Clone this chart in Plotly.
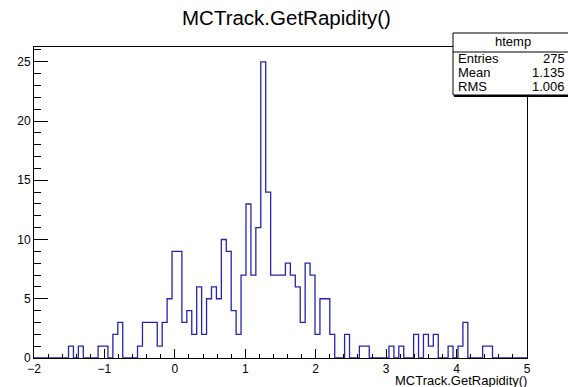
import plotly.graph_objects as go

# ---- data ----
x_min = -2.0
x_max = 5.0
n_bins = 100
counts = [0, 0, 0, 0, 0, 0, 0, 1, 0, 1,
          0, 0, 0, 1, 1, 0, 2, 3, 0, 0,
          0, 1, 3, 3, 3, 1, 3, 5, 9, 9,
          3, 4, 2, 6, 2, 5, 6, 5, 10, 9,
          4, 2, 7, 13, 7, 11, 25, 14, 7, 7,
          7, 8, 7, 6, 3, 8, 7, 2, 5, 5,
          2, 0, 0, 2, 0, 0, 1, 1, 0, 0,
          0, 0, 1, 0, 1, 0, 0, 2, 0, 2,
          1, 2, 0, 0, 1, 0, 1, 3, 0, 0,
          0, 1, 1, 0, 0, 0, 0, 0, 0, 0]
stat_names = ["Entries", "Mean", "RMS"]
stat_values = ["275", "1.135", "1.006"]
hist_name = "htemp"
title_text = "MCTrack.GetRapidity()"
x_title = "MCTrack.GetRapidity()"

# ---- geometry (page pixels) ----
W, H = 568, 387
PL, PR, PT, PB = 34, 527, 47, 358          # plot frame in page pixels
ML, MT = PL, PT
MR, MB = W - PR, H - PB
PW, PH = PR - PL, PB - PT


def px(x):
    return (x - PL) / PW


def py(y):
    return (PB - y) / PH


bw = (x_max - x_min) / n_bins
edges = [x_min + i * bw for i in range(n_bins + 1)]
ys = list(counts) + [counts[-1]]

FONT = "Liberation Sans, Arial, Helvetica, sans-serif"
LINE = "#2424b0"

fig = go.Figure()
fig.add_trace(go.Scatter(
    x=[edges[0]] + edges + [edges[-1]],
    y=[0] + ys + [0],
    mode="lines",
    line=dict(shape="hv", color=LINE, width=1.3),
    hoverinfo="skip",
    showlegend=False,
))

axis_common = dict(
    ticks="inside", tickcolor="black", showline=True, linecolor="black",
    linewidth=1, mirror=True, showgrid=False, zeroline=False,
    tickfont=dict(family=FONT, size=12, color="black"),
)

fig.update_layout(
    width=W, height=H,
    margin=dict(l=ML, r=MR, t=MT, b=MB, pad=0),
    paper_bgcolor="white", plot_bgcolor="white",
    showlegend=False,
    xaxis=dict(range=[x_min, x_max], tick0=-2, dtick=1, ticklen=9,
               minor=dict(dtick=0.2, tick0=-2, ticklen=4, ticks="inside",
                          tickcolor="black", showgrid=False),
               **axis_common),
    yaxis=dict(range=[0, max(counts) * 1.05], tick0=0, dtick=5, ticklen=14,
               minor=dict(dtick=1, ticklen=7, ticks="inside",
                          tickcolor="black", showgrid=False),
               **axis_common),
)

# title
fig.add_annotation(text=title_text, xref="paper", yref="paper",
                   x=px(286.5), y=py(17), xanchor="center", yanchor="middle",
                   showarrow=False, font=dict(family=FONT, size=20.5, color="black"))
# x-axis title
fig.add_annotation(text=x_title, xref="paper", yref="paper",
                   x=px(529), y=py(380), xanchor="right", yanchor="middle",
                   showarrow=False, font=dict(family=FONT, size=13, color="black"))

# stats box
bx0, bx1, by0, by1, bdiv = 453, 600, 33, 95, 52
fig.add_shape(type="rect", xref="paper", yref="paper",
              x0=px(bx0 + 1), x1=px(bx1 + 1), y0=py(by1 + 2), y1=py(by0 + 2),
              fillcolor="black", line=dict(width=0), layer="above")
fig.add_shape(type="rect", xref="paper", yref="paper",
              x0=px(bx0), x1=px(bx1), y0=py(by1), y1=py(by0),
              fillcolor="white", line=dict(color="black", width=1), layer="above")
fig.add_shape(type="line", xref="paper", yref="paper",
              x0=px(bx0), x1=px(bx1), y0=py(bdiv), y1=py(bdiv),
              line=dict(color="black", width=1), layer="above")
fig.add_annotation(text=hist_name, xref="paper", yref="paper",
                   x=px(513), y=py(42), xanchor="center", yanchor="middle",
                   showarrow=False, font=dict(family=FONT, size=13, color="black"))
row_y = [58.5, 72.5, 86.5]
for name, val, yy in zip(stat_names, stat_values, row_y):
    fig.add_annotation(text=name, xref="paper", yref="paper",
                       x=px(456), y=py(yy), xanchor="left", yanchor="middle",
                       showarrow=False, font=dict(family=FONT, size=13, color="black"))
    fig.add_annotation(text=val, xref="paper", yref="paper",
                       x=px(567), y=py(yy), xanchor="right", yanchor="middle",
                       showarrow=False, font=dict(family=FONT, size=13, color="black"))

fig.write_html("out.html", config={"displayModeBar": False},
               post_script="document.body.style.margin='0px';")
